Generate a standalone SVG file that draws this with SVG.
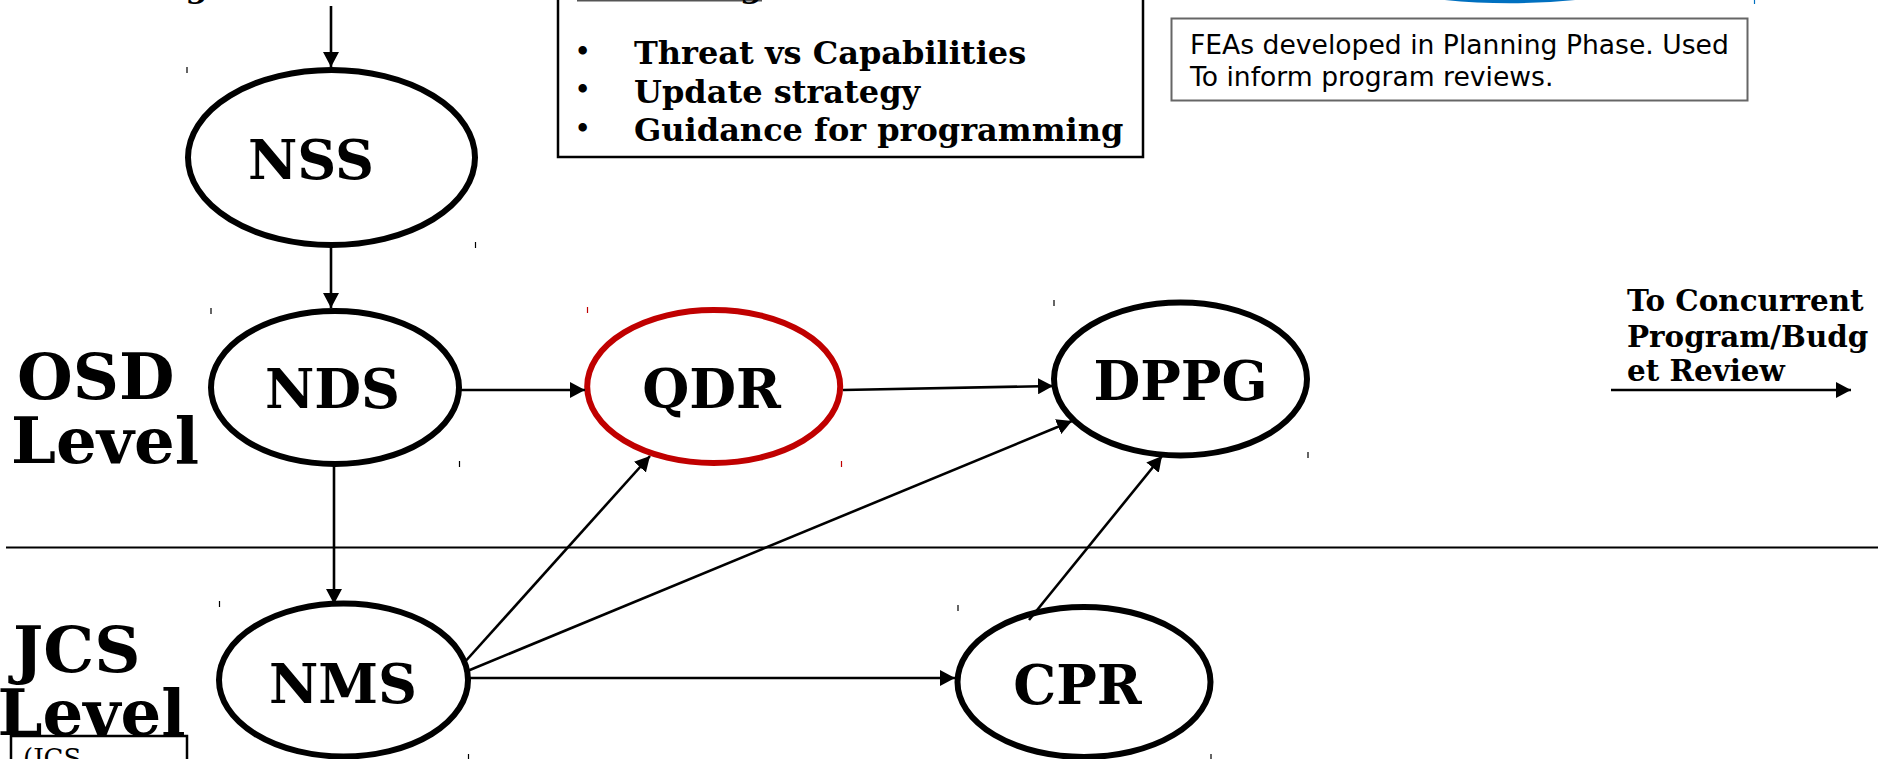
<svg xmlns="http://www.w3.org/2000/svg" width="1878" height="759" viewBox="0 0 1878 759">
<style>
text{font-family:"DejaVu Serif",serif;font-weight:700;fill:#000}
.node{fill:#fff;stroke:#000;stroke-width:6}
.label{font-size:54px;text-anchor:middle}
.level{font-size:64px}
.bul{font-size:32px}
.dot{font-size:24px}
.rev{font-size:29.4px}
.fea{font-family:"DejaVu Sans",sans-serif;font-weight:400;font-size:26.6px}
.box{fill:#fff;stroke:#000;stroke-width:2.5}
.con{fill:none;stroke:#000;stroke-width:2.6;marker-end:url(#a)}
.tick{stroke-width:1.2;fill:none}
</style>
<defs><marker id="a" markerUnits="userSpaceOnUse" markerWidth="16" markerHeight="16" refX="15" refY="8" orient="auto"><path d="M0 0L15 8L0 16Z" fill="#000"/></marker></defs>
<rect width="1878" height="759" fill="#fff"/>
<g id="ticks" class="tick">
<path stroke="#000" d="M187 67v6M475.500 242v6M211 308v6M459.500 461v6M219.500 601v6M468.500 754v5M958 605v6M1211 754v5M1054 300v6M1308 452v6"/>
<path stroke="#c00000" d="M587.500 307v6M841.500 461v6"/>
<path stroke="#0070c0" d="M1754.500 0v4"/>
</g>
<g id="top-fragments">
<text x="185.500" y="-3.500" font-size="32">g</text>
<ellipse cx="1510" cy="-88" rx="242" ry="88.500" fill="#fff" stroke="#0070c0" stroke-width="5.500"/>
</g>
<path id="divider" d="M6 547.500H1878" stroke="#000" stroke-width="2" fill="none"/>
<g id="NSS"><ellipse class="node" cx="331.500" cy="157.500" rx="143.500" ry="87.500"/><text class="label" x="311" y="179">NSS</text></g>
<g id="NDS"><ellipse class="node" cx="335" cy="387.500" rx="124" ry="76.500"/><text class="label" x="332.500" y="408">NDS</text></g>
<g id="QDR"><ellipse class="node" style="stroke:#c00000" cx="713.700" cy="386.500" rx="126.500" ry="76.500"/><text class="label" x="711.500" y="408">QDR</text></g>
<g id="DPPG"><ellipse class="node" cx="1180.500" cy="379" rx="126.500" ry="76.500"/><text class="label" x="1180.500" y="400">DPPG</text></g>
<g id="NMS"><ellipse class="node" cx="343.500" cy="680" rx="124.500" ry="76.500"/><text class="label" x="343" y="703">NMS</text></g>
<g id="CPR"><ellipse class="node" cx="1084" cy="682" rx="126.500" ry="75"/><text class="label" x="1077.500" y="704">CPR</text></g>
<g id="connectors">
<path class="con" d="M331 6V67"/>
<path class="con" d="M331 247V308"/>
<path class="con" d="M461 390H585"/>
<path class="con" d="M843 390L1053 386"/>
<path class="con" d="M334 466V604"/>
<path class="con" d="M463 664L650 456"/>
<path class="con" d="M465 672L1072 421"/>
<path class="con" d="M469 678H955"/>
<path class="con" d="M1029 620L1162 456"/>
<path class="con" d="M1611 390H1851"/>
</g>
<g id="osd-level"><text class="level" x="17" y="399">OSD</text><text class="level" x="11" y="463">Level</text></g>
<g id="jcs-box"><rect class="box" x="11" y="736" width="176" height="40"/><text x="23" y="767" font-size="26" style="font-weight:400">(JCS</text></g>
<g id="jcs-level"><text class="level" x="13" y="672">JCS</text><text class="level" x="-2.500" y="735">Level</text></g>
<g id="planning-box">
<rect class="box" x="558" y="-20" width="585" height="177"/>
<path d="M577 0.500H762" stroke="#555" stroke-width="2" fill="none"/>
<text x="740" y="-3" font-size="32">g</text>
<text class="dot" x="575" y="58.500">•</text><text class="bul" x="634" y="64">Threat vs Capabilities</text>
<text class="dot" x="575" y="96.500">•</text><text class="bul" x="634" y="103">Update strategy</text>
<text class="dot" x="575" y="135.500">•</text><text class="bul" x="634" y="141">Guidance for programming</text>
</g>
<g id="fea-box"><rect x="1171.500" y="18.500" width="576" height="82" fill="#fff" stroke="#666" stroke-width="2"/>
<text class="fea" x="1190" y="54">FEAs developed in Planning Phase. Used</text>
<text class="fea" x="1190" y="86">To inform program reviews.</text></g>
<g id="review-label">
<text class="rev" x="1627" y="311">To Concurrent</text>
<text class="rev" x="1627" y="347">Program/Budg</text>
<text class="rev" x="1627" y="381">et Review</text></g>
</svg>
